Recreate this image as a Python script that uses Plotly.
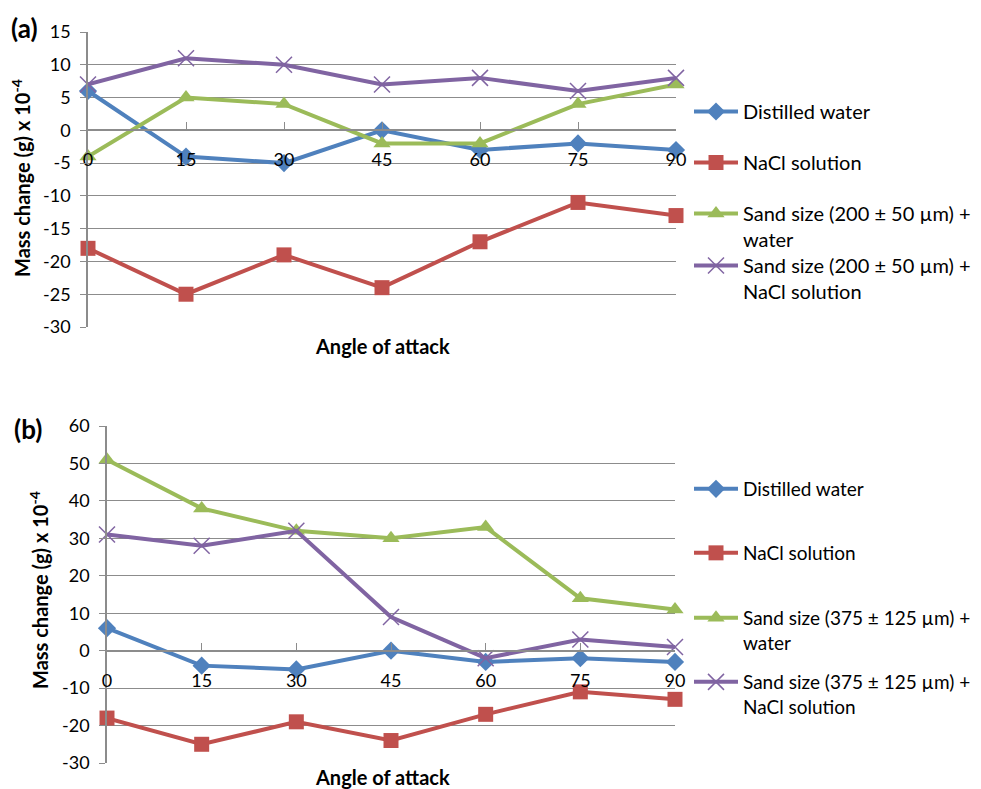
import plotly.graph_objects as go

angles = [0, 15, 30, 45, 60, 75, 90]
angle_ticks = ["0", "15", "30", "45", "60", "75", "90"]

# Panel (a)
a_distilled = [6, -4, -5, 0, -3, -2, -3]
a_nacl = [-18, -25, -19, -24, -17, -11, -13]
a_sand_water = [-4, 5, 4, -2, -2, 4, 7]
a_sand_nacl = [7, 11, 10, 7, 8, 6, 8]
a_yticks = [15, 10, 5, 0, -5, -10, -15, -20, -25, -30]
a_yticktext = ["15", "10", "5", "0", "-5", "-10", "-15", "-20", "-25", "-30"]

# Panel (b)
b_distilled = [6, -4, -5, 0, -3, -2, -3]
b_nacl = [-18, -25, -19, -24, -17, -11, -13]
b_sand_water = [51, 38, 32, 30, 33, 14, 11]
b_sand_nacl = [31, 28, 32, 9, -2, 3, 1]
b_yticks = [60, 50, 40, 30, 20, 10, 0, -10, -20, -30]
b_yticktext = ["60", "50", "40", "30", "20", "10", "0", "-10", "-20", "-30"]

names_a = ["Distilled water", "NaCl solution",
           "Sand size (200 ± 50 µm) +<br>water",
           "Sand size (200 ± 50 µm) +<br>NaCl solution"]
names_b = ["Distilled water", "NaCl solution",
           "Sand size (375 ± 125 µm) +<br>water",
           "Sand size (375 ± 125 µm) +<br>NaCl solution"]

colors = ["#4F81BD", "#C0504D", "#9BBB59", "#8064A2"]
symbols = ["diamond", "square", "triangle-up", "x-thin-open"]
msizes = [14, 15, 15, 16]

W, H = 981, 789
FONT = "Lato"
GRID = "#8C8C8C"
OFF = 8  # page body margin offset

def px(x):
    return (x - OFF) / W

def py(y):
    return 1 - (y - OFF) / H

fig = go.Figure()

legend_y_a = [112, 163, 214, 266]
legend_y_b = [489, 553, 618, 682]

for panel, (series, names) in enumerate([
        ([a_distilled, a_nacl, a_sand_water, a_sand_nacl], names_a),
        ([b_distilled, b_nacl, b_sand_water, b_sand_nacl], names_b)]):
    xa = "x" if panel == 0 else "x2"
    ya = "y" if panel == 0 else "y2"
    for i, vals in enumerate(series):
        k = panel * 4 + i
        lname = "legend" if k == 0 else f"legend{k + 1}"
        mk = dict(symbol=symbols[i], size=msizes[i], color=colors[i])
        if symbols[i] == "x-thin-open":
            mk["line"] = dict(color=colors[i], width=1.5)
        fig.add_trace(go.Scatter(
            x=angles, y=vals, name=names[i], mode="lines+markers",
            line=dict(color=colors[i], width=4), marker=mk,
            xaxis=xa, yaxis=ya, legend=lname, cliponaxis=False,
            showlegend=True))

legend_layout = {}
all_leg_ys = legend_y_a + legend_y_b
for k in range(8):
    key = "legend" if k == 0 else f"legend{k + 1}"
    fs = 20 if k < 4 else 19
    legend_layout[key] = dict(
        x=px(689), y=py(all_leg_ys[k] - fs), xanchor="left", yanchor="top",
        bgcolor="rgba(0,0,0,0)", borderwidth=0, valign="top",
        font=dict(family=FONT, size=fs, color="#000"),
        itemwidth=44, tracegroupgap=0, visible=True)

tickfont = dict(family=FONT, size=18, color="#000")

def xaxis_cfg(dom, pos):
    return dict(domain=dom, range=[0, 90], anchor="free", position=pos,
                tickvals=angles, ticktext=angle_ticks, ticks="inside",
                ticklen=7, tickcolor=GRID, showgrid=False, zeroline=False,
                ticklabelstandoff=14, showline=True, linecolor=GRID,
                linewidth=1.5, tickfont=tickfont, automargin=False)

def yaxis_cfg(dom, rng, tv, tt, anchor):
    return dict(domain=dom, range=rng, tickvals=tv, ticktext=tt,
                anchor=anchor, ticks="outside", ticklen=6, tickcolor=GRID,
                showgrid=True, gridcolor=GRID, gridwidth=1.2, zeroline=False,
                showline=True, linecolor=GRID, linewidth=1.5,
                ticklabelstandoff=6, tickfont=tickfont, automargin=False)

fig.update_layout(
    width=W, height=H,
    margin=dict(l=0, r=0, t=0, b=0, autoexpand=False),
    paper_bgcolor="white", plot_bgcolor="white",
    font=dict(family=FONT, color="#000"),
    showlegend=True,
    **legend_layout,
    xaxis=xaxis_cfg([px(88), px(676)], py(130)),
    yaxis=yaxis_cfg([py(327), py(32)], [-30, 15], a_yticks, a_yticktext, "x"),
    xaxis2=xaxis_cfg([px(107), px(675)], py(651)),
    yaxis2=yaxis_cfg([py(763), py(426)], [-30, 60], b_yticks, b_yticktext, "x2"),
)

ann = [
    dict(text="<b>(a)</b>", x=px(24), y=py(28), font=dict(size=26)),
    dict(text="<b>(b)</b>", x=px(28), y=py(429), font=dict(size=26)),
    dict(text="<b>Mass change (g) x 10<sup>-4</sup></b>", x=px(21), y=py(178),
         textangle=-90, font=dict(size=20)),
    dict(text="<b>Mass change (g) x 10<sup>-4</sup></b>", x=px(39), y=py(590),
         textangle=-90, font=dict(size=20)),
    dict(text="<b>Angle of attack</b>", x=px(382), y=py(346), font=dict(size=20)),
    dict(text="<b>Angle of attack</b>", x=px(382), y=py(777), font=dict(size=20)),
]
for a in ann:
    a.update(xref="paper", yref="paper", showarrow=False,
             xanchor="center", yanchor="middle")
    a["font"].update(family=FONT, color="#000")
    fig.add_annotation(**a)

fig.write_html("out.html")
